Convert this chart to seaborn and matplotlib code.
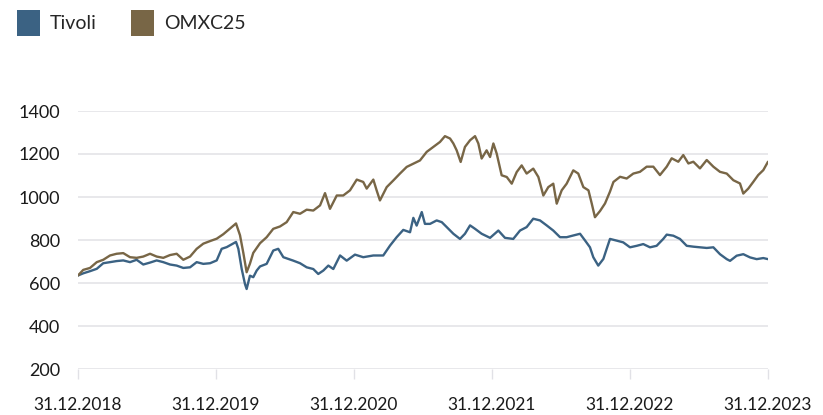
import numpy as np
import pandas as pd
import matplotlib
matplotlib.use("Agg")
import matplotlib.pyplot as plt
from matplotlib.patches import Patch
import seaborn as sns

# ---- data (time as decimal year; 2019.0 == 31.12.2018) ----
tivoli_t = [2019.000, 2019.038, 2019.087, 2019.136, 2019.183, 2019.232, 2019.280, 2019.328, 2019.377, 2019.425,
            2019.473, 2019.522, 2019.570, 2019.618, 2019.667, 2019.715, 2019.763, 2019.812, 2019.860, 2019.908,
            2019.957, 2020.005, 2020.041, 2020.078, 2020.145, 2020.162, 2020.186, 2020.210, 2020.222, 2020.246,
            2020.270, 2020.295, 2020.319, 2020.367, 2020.415, 2020.451, 2020.488, 2020.560, 2020.609, 2020.657,
            2020.705, 2020.741, 2020.778, 2020.814, 2020.850, 2020.899, 2020.947, 2021.007, 2021.067, 2021.140,
            2021.212, 2021.261, 2021.309, 2021.357, 2021.406, 2021.430, 2021.454, 2021.491, 2021.514, 2021.551,
            2021.599, 2021.636, 2021.672, 2021.720, 2021.768, 2021.804, 2021.841, 2021.877, 2021.925, 2021.986,
            2022.046, 2022.094, 2022.154, 2022.203, 2022.251, 2022.299, 2022.348, 2022.396, 2022.444, 2022.493,
            2022.541, 2022.589, 2022.638, 2022.674, 2022.710, 2022.734, 2022.770, 2022.807, 2022.831, 2022.855,
            2022.904, 2022.951, 2023.000, 2023.049, 2023.096, 2023.145, 2023.193, 2023.241, 2023.266, 2023.314,
            2023.362, 2023.411, 2023.459, 2023.507, 2023.556, 2023.604, 2023.652, 2023.701, 2023.725, 2023.773,
            2023.821, 2023.870, 2023.918, 2023.966, 2024.000]
tivoli_v = [635, 645, 655, 666, 692, 697, 702, 705, 697, 708,
            686, 695, 705, 697, 686, 681, 670, 673, 697, 689,
            692, 705, 759, 767, 791, 759, 666, 595, 572, 634,
            627, 658, 677, 689, 751, 759, 720, 704, 692, 673,
            665, 642, 658, 681, 665, 728, 704, 732, 720, 728,
            728, 774, 813, 847, 836, 903, 867, 930, 875, 875,
            891, 883, 860, 829, 805, 829, 868, 852, 829, 810,
            844, 810, 805, 844, 860, 899, 891, 868, 844, 813,
            813, 821, 829, 798, 766, 720, 681, 712, 759, 805,
            797, 789, 766, 773, 781, 766, 773, 805, 825, 820,
            805, 773, 769, 766, 763, 766, 734, 711, 703, 727,
            734, 719, 711, 716, 711]

omx_t = [2019.000, 2019.038, 2019.087, 2019.136, 2019.183, 2019.232, 2019.280, 2019.328, 2019.377, 2019.425,
         2019.473, 2019.522, 2019.570, 2019.618, 2019.667, 2019.715, 2019.763, 2019.812, 2019.860, 2019.908,
         2019.957, 2020.005, 2020.053, 2020.101, 2020.145, 2020.174, 2020.198, 2020.222, 2020.246, 2020.270,
         2020.319, 2020.367, 2020.415, 2020.464, 2020.512, 2020.560, 2020.609, 2020.657, 2020.705, 2020.754,
         2020.790, 2020.826, 2020.875, 2020.922, 2020.971, 2021.020, 2021.067, 2021.092, 2021.140, 2021.164,
         2021.188, 2021.237, 2021.285, 2021.333, 2021.382, 2021.430, 2021.478, 2021.527, 2021.575, 2021.623,
         2021.659, 2021.696, 2021.720, 2021.744, 2021.773, 2021.804, 2021.841, 2021.877, 2021.901, 2021.925,
         2021.961, 2021.986, 2022.010, 2022.034, 2022.070, 2022.107, 2022.143, 2022.179, 2022.215, 2022.251,
         2022.299, 2022.336, 2022.372, 2022.408, 2022.444, 2022.469, 2022.505, 2022.541, 2022.589, 2022.625,
         2022.662, 2022.699, 2022.723, 2022.746, 2022.783, 2022.819, 2022.855, 2022.880, 2022.928, 2022.976,
         2023.024, 2023.072, 2023.121, 2023.169, 2023.217, 2023.266, 2023.302, 2023.350, 2023.386, 2023.423,
         2023.459, 2023.507, 2023.556, 2023.604, 2023.652, 2023.701, 2023.749, 2023.797, 2023.821, 2023.857,
         2023.893, 2023.929, 2023.966, 2024.000]
omx_v = [635, 661, 670, 697, 708, 728, 736, 739, 720, 717,
         723, 736, 723, 717, 730, 736, 708, 723, 759, 783,
         795, 806, 827, 853, 877, 822, 740, 650, 690, 740,
         785, 813, 852, 863, 883, 930, 922, 941, 937, 961,
         1018, 945, 1007, 1007, 1031, 1081, 1070, 1039, 1081, 1031,
         984, 1046, 1077, 1109, 1140, 1155, 1170, 1210, 1233, 1256,
         1283, 1272, 1249, 1217, 1163, 1233, 1264, 1283, 1249, 1179,
         1217, 1186, 1249, 1202, 1101, 1093, 1062, 1116, 1147, 1109,
         1132, 1093, 1007, 1046, 1062, 969, 1031, 1062, 1124, 1109,
         1046, 1031, 969, 906, 935, 970, 1025, 1070, 1094, 1086,
         1109, 1117, 1141, 1141, 1102, 1141, 1180, 1164, 1195, 1156,
         1164, 1133, 1172, 1141, 1117, 1109, 1078, 1063, 1016, 1039,
         1070, 1102, 1125, 1164]

series_names = ["Tivoli", "OMXC25"]
series_colors = ["#3b6283", "#786646"]
x_tick_pos = [2019, 2020, 2021, 2022, 2023, 2024]
x_tick_labels = ["31.12.2018", "31.12.2019", "31.12.2020", "31.12.2021", "31.12.2022", "31.12.2023"]
y_ticks = [200, 400, 600, 800, 1000, 1200, 1400]

df = pd.concat([
    pd.DataFrame({"t": tivoli_t, "v": tivoli_v, "s": series_names[0]}),
    pd.DataFrame({"t": omx_t, "v": omx_v, "s": series_names[1]}),
], ignore_index=True)

sns.set_theme(style="white")
plt.rcParams["font.family"] = ["Lato", "DejaVu Sans"]

fig = plt.figure(figsize=(8.23, 4.15), dpi=100)
ax = fig.add_axes([78 / 823, 1 - 369 / 415, 690 / 823, 258 / 415])

sns.lineplot(data=df, x="t", y="v", hue="s", hue_order=series_names,
             palette=series_colors, linewidth=1.7, ax=ax, legend=False,
             estimator=None, sort=False)

ax.set_xlim(2019, 2024)
ax.set_ylim(200, 1400)
ax.set_yticks(y_ticks)
ax.set_yticklabels([str(v) for v in y_ticks])
ax.set_xticks(x_tick_pos)
ax.set_xticklabels(x_tick_labels)
ax.set_xlabel("")
ax.set_ylabel("")

grid_c = "#e1e1e6"
ax.grid(axis="y", color=grid_c, linewidth=1.1)
ax.grid(axis="x", visible=False)
ax.set_axisbelow(True)
for sp in ax.spines.values():
    sp.set_visible(False)
ax.tick_params(axis="y", length=0, pad=13, labelsize=13, labelcolor="#1a1a1a")
ax.tick_params(axis="x", length=7, width=1.0, color=grid_c, pad=13,
               labelsize=12.5, labelcolor="#1a1a1a", bottom=True)

handles = [Patch(facecolor=c, edgecolor="none", label=n) for n, c in zip(series_names, series_colors)]
fig.legend(handles=handles, loc="upper left", bbox_to_anchor=(17 / 823, 1 - 10 / 415),
           ncol=2, frameon=False, fontsize=14, handlelength=1.2, handleheight=1.7,
           handletextpad=0.5, columnspacing=1.75, borderpad=0, borderaxespad=0)

fig.savefig("out.png", dpi=100)
